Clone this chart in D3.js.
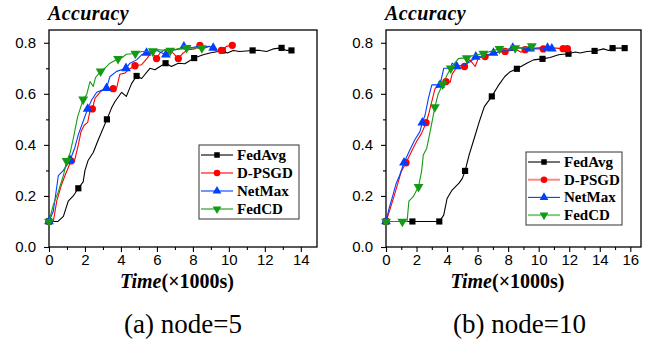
<!DOCTYPE html>
<html>
<head>
<meta charset="utf-8">
<script src="https://cdn.jsdelivr.net/npm/d3@7"></script>
<style>
body { margin: 0; background: #fff; }
svg { display: block; }
.serif { font-family: "Liberation Serif", "Times New Roman", Tinos, "DejaVu Serif", serif; }
.sans { font-family: "Liberation Sans", Arial, Arimo, "DejaVu Sans", sans-serif; }
</style>
</head>
<body>
<script>
"use strict";
// [x (x1000 s), accuracy, marker?]
const fedAvgA = [[0,0.1,1],[0.5,0.1],[0.8,0.12],[1.07,0.18],[1.35,0.2],[1.63,0.23,1],[1.9,0.255],[2.0,0.3],[2.18,0.34],[2.46,0.37],[2.74,0.42],[3.22,0.5,1],[3.48,0.545],[3.67,0.57],[4.04,0.606],[4.3,0.59],[4.59,0.64],[4.87,0.67,1],[5.15,0.66],[5.61,0.7],[5.89,0.694],[6.17,0.707],[6.48,0.72,1],[6.81,0.707],[7.19,0.72],[7.55,0.718],[8.07,0.74,1],[8.57,0.753],[8.94,0.76],[9.4,0.766],[9.65,0.77,1],[9.91,0.76],[10.24,0.77],[10.6,0.766],[11.32,0.77,1],[11.72,0.77],[12.1,0.766],[12.46,0.776],[12.93,0.78,1],[13.2,0.77],[13.48,0.77,1]];
const dpsgdA = [[0,0.1,1],[0.24,0.1],[0.43,0.18],[0.7,0.245],[0.89,0.28],[1.22,0.337,1],[1.41,0.335],[1.63,0.4],[1.78,0.452],[1.96,0.477],[2.15,0.488],[2.28,0.533],[2.41,0.541,1],[2.56,0.583],[2.83,0.606],[3.11,0.622],[3.57,0.62,1],[3.76,0.622],[3.94,0.677],[4.22,0.681],[4.41,0.694],[4.78,0.71,1],[5.15,0.714],[5.43,0.737],[5.7,0.764],[5.98,0.738,1],[6.17,0.76],[6.44,0.773],[6.81,0.766],[7.19,0.738,1],[7.46,0.76],[7.74,0.773],[8.11,0.776],[8.39,0.79,1],[8.67,0.78],[8.94,0.786],[9.22,0.77],[9.4,0.766],[9.59,0.77,1],[9.87,0.786],[10.19,0.79,1]];
const netMaxA = [[0,0.1,1],[0.24,0.14],[0.52,0.28],[0.8,0.3],[1.17,0.34,1],[1.44,0.39],[1.63,0.44],[1.85,0.483],[2.15,0.541,1],[2.37,0.576],[2.65,0.606],[3.2,0.622,1],[3.39,0.668],[3.76,0.688],[4.28,0.7,1],[4.5,0.72],[4.87,0.733],[5.15,0.753],[5.42,0.76,1],[6.0,0.77],[6.5,0.753,1],[6.8,0.77],[7.2,0.775],[7.5,0.785,1],[7.9,0.78],[8.3,0.786],[8.6,0.78],[8.85,0.786],[9.13,0.78,1]];
const fedCDA = [[0,0.1,1],[0.24,0.165],[0.52,0.217],[0.8,0.28],[0.98,0.337,1],[1.17,0.367],[1.35,0.425],[1.59,0.51],[1.9,0.578,1],[2.09,0.596],[2.28,0.648],[2.46,0.629],[2.59,0.664],[2.87,0.688,1],[3.11,0.701],[3.39,0.72],[3.84,0.737,1],[4.07,0.742],[4.3,0.755],[4.8,0.758,1],[5.15,0.766],[5.77,0.767,1],[5.98,0.773],[6.74,0.769,1],[7.28,0.778],[7.65,0.78,1],[8.11,0.78],[8.5,0.779,1]];

const fedAvgB = [[0,0.1,1],[1.73,0.1,1],[3.49,0.1,1],[3.78,0.125],[4.0,0.19],[4.33,0.223],[4.78,0.25],[5.0,0.269],[5.18,0.298,1],[5.44,0.36],[5.78,0.426],[6.11,0.491],[6.44,0.55],[6.93,0.59,1],[7.33,0.63],[7.78,0.668],[8.1,0.685],[8.57,0.698,1],[9.22,0.72],[9.66,0.733],[10.25,0.737,1],[10.75,0.742],[11.3,0.753],[11.95,0.757,1],[12.39,0.764],[12.72,0.76],[13.16,0.766],[13.66,0.768,1],[14.25,0.776],[14.58,0.77],[14.84,0.779,1],[15.63,0.779,1]];
const dpsgdB = [[0,0.1,1],[0.22,0.14],[0.56,0.205],[0.78,0.25],[1.0,0.296],[1.31,0.33,1],[1.67,0.374],[2.0,0.413],[2.33,0.445],[2.62,0.487,1],[2.78,0.517],[3.0,0.57],[3.22,0.622],[3.5,0.63],[3.93,0.648,1],[4.2,0.645],[4.33,0.677],[4.59,0.7],[5.14,0.707,1],[5.5,0.733],[5.84,0.707],[6.05,0.74],[6.49,0.746,1],[7.02,0.76],[7.8,0.766,1],[8.55,0.773],[8.85,0.763],[9.11,0.773,1],[9.77,0.776],[10.3,0.776,1],[10.9,0.78],[11.6,0.777,1],[11.88,0.777,1]];
const netMaxB = [[0,0.1,1],[0.22,0.155],[0.44,0.2],[0.67,0.25],[0.89,0.28],[1.18,0.33,1],[1.56,0.38],[1.89,0.42],[2.22,0.452],[2.38,0.487,1],[2.56,0.517],[2.78,0.583],[3.0,0.635],[3.54,0.635,1],[3.78,0.7],[4.22,0.7],[4.33,0.72],[4.63,0.707,1],[5.1,0.714],[5.56,0.727],[5.88,0.745,1],[6.44,0.748],[7.04,0.76,1],[7.5,0.766],[7.91,0.773],[8.3,0.78,1],[8.79,0.78],[9.44,0.777,1],[10.0,0.78],[10.58,0.78,1],[10.86,0.777,1]];
const fedCDB = [[0,0.1,1],[1.07,0.1,1],[1.38,0.1],[1.5,0.18],[1.78,0.197],[2.13,0.236,1],[2.33,0.296],[2.44,0.36],[2.67,0.387],[2.89,0.452],[3.2,0.548,1],[3.4,0.596],[3.71,0.637,1],[4.0,0.674],[4.24,0.7,1],[4.5,0.72],[4.74,0.738],[5.0,0.74],[5.29,0.74,1],[5.6,0.748],[5.95,0.753],[6.38,0.758,1],[6.82,0.766],[7.43,0.776,1],[7.9,0.773],[8.46,0.779,1],[9.0,0.78],[9.55,0.787,1],[9.77,0.79]];

const names = ["FedAvg", "D-PSGD", "NetMax", "FedCD"];
const yTicks = [0, 0.2, 0.4, 0.6, 0.8];
const xTicksA = [0, 2, 4, 6, 8, 10, 12, 14];
const xTicksB = [0, 2, 4, 6, 8, 10, 12, 14, 16];
const captions = ["(a) node=5", "(b) node=10"];

const colors = ["#000000", "#ff0000", "#0040ff", "#159a15"];
const legendLineB = ["#000000", "#ff8585", "#0040ff", "#7fcc7f"];
const shapes = [d3.symbolSquare, d3.symbolCircle, d3.symbolTriangle, d3.symbolTriangle];
const sizes = [38, 42, 42, 42];

const W = 656, H = 343;
const svg = d3.select("body").append("svg").attr("width", W).attr("height", H);
svg.append("rect").attr("width", W).attr("height", H).attr("fill", "#fff");

function panel(o) {
	const x = d3.scaleLinear().domain([0, o.xMax]).range([o.x0, o.x1]);
	const y = d3.scaleLinear().domain([0, 0.85]).range([247, 30]);
	const g = svg.append("g");

	// minor ticks
	const minorX = d3.range(1, o.xMax, 2);
	const minorY = [0.1, 0.3, 0.5, 0.7];
	g.append("g").attr("transform", "translate(0,247)")
		.call(d3.axisBottom(x).tickValues(minorX).tickSize(3).tickFormat(""))
		.call(a => a.select(".domain").remove());
	g.append("g").attr("transform", "translate(" + o.x0 + ",0)")
		.call(d3.axisLeft(y).tickValues(minorY).tickSize(3).tickFormat(""))
		.call(a => a.select(".domain").remove());

	const xa = g.append("g").attr("transform", "translate(0,247)")
		.call(d3.axisBottom(x).tickValues(o.xTicks).tickSize(5).tickPadding(2).tickFormat(d3.format("d")));
	const ya = g.append("g").attr("transform", "translate(" + o.x0 + ",0)")
		.call(d3.axisLeft(y).tickValues(yTicks).tickSize(5).tickPadding(8).tickFormat(d3.format(".1f")));
	[xa, ya].forEach(a => {
		a.attr("font-family", null).attr("font-size", null);
		a.selectAll("text").attr("class", "sans").style("font-size", "15px").attr("fill", "#000");
		a.select(".domain").remove();
	});
	g.selectAll(".tick line").attr("stroke", "#000").attr("stroke-width", 1.1);

	// frame
	g.append("rect").attr("x", o.x0).attr("y", y(0.85)).attr("width", o.x1 - o.x0).attr("height", y(0) - y(0.85))
		.attr("fill", "none").attr("stroke", "#000").attr("stroke-width", 1.3);

	const line = d3.line().x(d => x(d[0])).y(d => y(d[1]));
	o.series.forEach((s, i) => {
		g.append("path").datum(s).attr("d", line).attr("fill", "none")
			.attr("stroke", colors[i]).attr("stroke-width", 1.1).attr("stroke-linejoin", "round");
		g.selectAll(null).data(s.filter(d => d[2])).enter().append("path")
			.attr("d", d3.symbol(shapes[i], sizes[i]))
			.attr("transform", d => "translate(" + x(d[0]) + "," + y(d[1]) + ")" + (i == 3 ? " rotate(180)" : ""))
			.attr("fill", colors[i]);
	});

	// title
	g.append("text").attr("class", "serif").attr("x", o.x0 - 1).attr("y", 20).text("Accuracy")
		.style("font-size", "20px").style("font-weight", "bold").style("font-style", "italic").attr("letter-spacing", 0.4);

	// x label
	const cx = (o.x0 + o.x1) / 2;
	const xl = g.append("text").attr("class", "serif").attr("x", cx - 6).attr("y", 288).attr("text-anchor", "middle")
		.style("font-size", "20px").style("font-weight", "bold");
	xl.append("tspan").style("font-style", "italic").text("Time");
	xl.append("tspan").text("(×1000s)");

	g.append("text").attr("class", "serif").attr("x", cx + o.capDx).attr("y", 333).attr("text-anchor", "middle").text(o.caption)
		.style("font-size", "27px");

	// legend
	const L = o.legend;
	g.append("rect").attr("x", L.x).attr("y", L.y).attr("width", L.w).attr("height", L.h)
		.attr("fill", "#fff").attr("stroke", "#333").attr("stroke-width", 1);
	names.forEach((n, i) => {
		const ly = L.y + L.top + i * L.step;
		g.append("line").attr("x1", L.x + 2).attr("x2", L.x + 34).attr("y1", ly).attr("y2", ly)
			.attr("stroke", L.lineColors[i]).attr("stroke-width", L.lineW[i]);
		g.append("path").attr("d", d3.symbol(shapes[i], sizes[i] * 0.8))
			.attr("transform", "translate(" + (L.x + 18) + "," + ly + ")" + (i == 3 ? " rotate(180)" : ""))
			.attr("fill", colors[i]);
		g.append("text").attr("class", "serif").attr("x", L.x + 38).attr("y", ly + 5).text(n)
			.style("font-size", "15px").style("font-weight", "bold");
	});
}

panel({x0: 49, x1: 317, xMax: 14.9, xTicks: xTicksA, series: [fedAvgA, dpsgdA, netMaxA, fedCDA], caption: captions[0], capDx: 0,
	legend: {x: 199, y: 145, w: 100, h: 74, top: 10, step: 18, lineColors: colors, lineW: [1.1, 1.1, 1.1, 1.1]}});
panel({x0: 386, x1: 641, xMax: 16.7, xTicks: xTicksB, series: [fedAvgB, dpsgdB, netMaxB, fedCDB], caption: captions[1], capDx: 6,
	legend: {x: 526, y: 152, w: 96, h: 73, top: 10, step: 17.7, lineColors: legendLineB, lineW: [1.1, 2, 1.1, 2]}});
</script>
</body>
</html>
